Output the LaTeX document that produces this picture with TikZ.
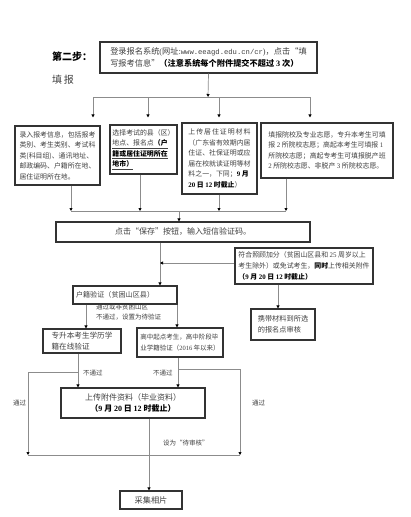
\documentclass[tikz,border=0pt]{standalone}
\usepackage{fontspec}
\setmainfont{Noto Sans CJK SC}
\newfontfamily\latinf{Liberation Serif}
\newfontfamily\monof{Liberation Mono}
\usetikzlibrary{arrows.meta}
\definecolor{txt}{HTML}{404040}
\definecolor{bord}{HTML}{333333}
\definecolor{conn}{HTML}{8C8C8C}
\newcommand{\fsz}[2]{\fontsize{#1pt}{#2pt}\selectfont}
\newcommand{\nm}[1]{{\latinf #1}}
\newcommand{\bk}[1]{{\color{black}\bfseries #1}}
\begin{document}
\begin{tikzpicture}[x=1pt,y=-1pt,
  box/.style={draw=bord, line width=1.1pt, inner sep=0pt, text=txt, anchor=center},
  line/.style={draw=conn, line width=0.7pt},
  arr/.style={line, -{Triangle[length=3pt,width=3pt,color=black]}},
  lab/.style={text=txt, inner sep=0pt, anchor=west, align=left, font=\fsz{6.5}{10}},
]
\useasboundingbox[fill=white] (0,0) rectangle (410,517);

% step title
\node[inner sep=0pt, anchor=west, font=\fsz{10}{12}\bfseries] (step) at (52,57) {第二步：};
\node[inner sep=0pt, anchor=west, text=txt, font=\fsz{10}{12}] (fill) at (52,80) {填\,报};

% top box
\node[box, minimum width=217, minimum height=31, align=left, font=\fsz{8.2}{12.5}] (login) at (208.5,57.5)
 {登录报名系统\nm{(}网址\nm{:}{\monof\fontsize{7.2pt}{12.5pt}\selectfont www.eeagd.edu.cn/cr}\nm{)}，点击“填\\
  写报考信息”\bk{（注意系统每个附件提交不超过 \nm{3} 次）}};

% four boxes
\node[box, minimum width=85, minimum height=59, align=left, font=\fsz{6.9}{10.5}] (boxA) at (57.5,155.5)
 {录入报考信息，包括报考\\类别、考生类别、考试科\\类(科目组)、通讯地址、\\邮政编码、户籍所在地、\\居住证明所在地。};
\node[box, minimum width=67, minimum height=49, align=left, font=\fsz{6.9}{10.5}] (boxB) at (143.5,149.5)
 {选择考试的县（区）\\\underline{地点、报名点\bk{（户}}\\\underline{\bk{籍或居住证明所在}}\\\underline{\bk{地市）}}};
\node[box, minimum width=75, minimum height=71, align=left, font=\fsz{6.9}{10.5}] (boxC) at (219.5,158.5)
 {\makebox[62pt][s]{上\hfill 传\hfill 居\hfill 住\hfill 证\hfill 明\hfill 材\hfill 料}\\（广东省有效期内居\\住证、社保证明或应\\届在校就读证明等材\\料之一，下同；\bk{\nm{9} 月}\\\bk{\nm{20} 日 \nm{12} 时截止}）};
\node[box, minimum width=132, minimum height=55, align=left, font=\fsz{6.9}{10.3}] (boxD) at (327,150.5)
 {填报院校及专业志愿，专升本考生可填\\报 \nm{2} 所院校志愿；高起本考生可填报 \nm{1}\\所院校志愿；高起专考生可填报脱产班\\\nm{2} 所院校志愿、非脱产 \nm{3} 所院校志愿。};

% save box
\node[box, minimum width=254, minimum height=20, font=\fsz{8}{10}] (save) at (183,232)
 {点击“保存”按钮，输入短信验证码。};

% right box
\node[box, minimum width=138, minimum height=36, align=left, font=\fsz{6.9}{11}] (fuhe) at (304,266)
 {符合照顾加分（贫困山区县和 \nm{25} 周岁以上\\考生除外）或免试考生，\bk{同时}上传相关附件\\\bk{（\nm{9} 月 \nm{20} 日 \nm{12} 时截止）}};
\node[box, minimum width=64, minimum height=31, align=left, font=\fsz{7.2}{11}] (xiedai) at (283,324.5)
 {携带材料到所选\\的报名点审核};

% household box
\node[box, minimum width=104, minimum height=18, text width=98, align=left, font=\fsz{7.1}{9}] (huji) at (125,295)
 {户籍验证（贫困山区县）};
\node[lab] (lbpass) at (96,312.5) {通过或非贫困山区\\不通过，设置为待验证};

\node[box, minimum width=78, minimum height=24, align=left, font=\fsz{7.6}{11}] (zsb) at (82,341)
 {专升本考生学历学\\籍在线验证};
\node[box, minimum width=86, minimum height=29, align=left, font=\fsz{6.5}{11}] (gz) at (180,342.5)
 {高中起点考生，高中阶段毕\\业学籍验证（\nm{2016} 年以来）};

\node[box, minimum width=144, minimum height=30, align=center, font=\fsz{8}{11}] (upl) at (133,403)
 {上传附件资料（毕业资料）\\\bk{（\nm{9} 月 \nm{20} 日 \nm{12} 时截止）}};
\node[box, minimum width=62, minimum height=18, font=\fsz{8.2}{10}] (cj) at (151,500) {采集相片};

% labels
\node[lab] (nl1) at (83,373) {不通过};
\node[lab] (nl2) at (153,373) {不通过};
\node[lab] (pl1) at (13,403) {通过};
\node[lab] (pl2) at (252,403) {通过};
\node[lab] (pend) at (163,443) {设为“待审核”};

% coordinates
\coordinate (t0) at (208,97);
\coordinate (tl) at (93,97);
\coordinate (tb) at (148,97);
\coordinate (tc) at (219,97);
\coordinate (tr) at (310,97);
\coordinate (ma) at (71,211);
\coordinate (mb) at (140,211);
\coordinate (mc) at (219,211);
\coordinate (md) at (286,211);
\coordinate (mm) at (179,211);
\coordinate (hx) at (160,263);
\coordinate (fx) at (278,0);
\coordinate (hl) at (86,0);
\coordinate (hr) at (177,0);
\coordinate (zl) at (78,372);
\coordinate (gr) at (178,369);
\coordinate (pl) at (28,455);
\coordinate (pr) at (240,455);
\coordinate (ux) at (149,0);

% connectors
\draw[arr] (login.south) -- (t0);
\draw[line] (tl) -- (tr);
\draw[arr, shorten >=8pt] (tl) -- (tl |- boxA.north);
\draw[arr, shorten >=7pt] (tb) -- (tb |- boxB.north);
\draw[arr, shorten >=5pt] (tc) -- (tc |- boxC.north);
\draw[arr, shorten >=5pt] (tr) -- (tr |- boxD.north);

\draw[arr] (ma |- boxA.south) -- (ma);
\draw[arr] (mb |- boxB.south) -- (mb);
\draw[arr] (mc |- boxC.south) -- (mc);
\draw[arr] (md |- boxD.south) -- (md);
\draw[line] (ma) -- (md);
\draw[arr] (mm) -- (mm |- save.north);

\draw[arr] (save.south -| hx) -- (hx |- huji.north);
\draw[arr] (fuhe.west |- hx) -- (hx);
\draw[arr] (fuhe.south -| fx) -- (fx |- xiedai.north);

\draw[arr] (huji.south -| hl) -- (hl |- zsb.north);
\draw[arr] (huji.south -| hr) -- (hr |- gz.north);

\draw[arr] (zsb.south -| zl) -- (zl |- upl.north);
\draw[arr] (zl) -| (pl);
\draw[arr] (gz.south -| gr) -- (gr |- upl.north);
\draw[arr] (gr) -| (pr);
\draw[line] (pl) -- (pr);
\draw[arr] (upl.south -| ux) -- (ux |- cj.north);
\end{tikzpicture}
\end{document}
